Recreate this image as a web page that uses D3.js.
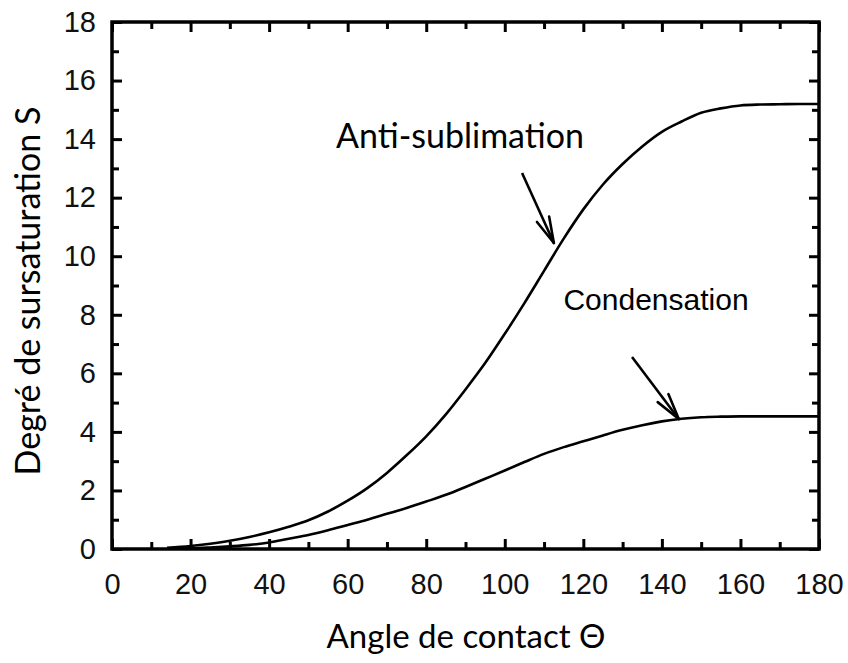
<!DOCTYPE html>
<html>
<head>
<meta charset="utf-8">
<script src="https://cdn.jsdelivr.net/npm/d3@7/dist/d3.min.js"></script>
<style>
  html, body { margin: 0; padding: 0; background: #fff; }
  svg { display: block; }
</style>
</head>
<body>
<svg id="chart" width="848" height="663"></svg>
<script>
// ---- data ----
const angles = [14,20,25,30,35,40,45,50,55,60,65,70,75,80,85,90,95,100,105,110,115,120,125,130,135,140,145,150,155,160,165,170,175,180];
const antiSublimation = [0.04,0.10,0.18,0.28,0.41,0.57,0.76,0.98,1.28,1.65,2.08,2.60,3.20,3.85,4.60,5.45,6.35,7.35,8.40,9.50,10.60,11.60,12.45,13.15,13.75,14.25,14.60,14.90,15.05,15.15,15.18,15.19,15.20,15.20];
const condensation    = [0.01,0.02,0.05,0.09,0.14,0.22,0.35,0.48,0.64,0.82,1.00,1.20,1.40,1.62,1.85,2.12,2.40,2.68,2.97,3.25,3.48,3.68,3.88,4.07,4.23,4.36,4.45,4.50,4.52,4.53,4.53,4.53,4.53,4.53];
const xTickLabels = [0,20,40,60,80,100,120,140,160,180];
const yTickLabels = [0,2,4,6,8,10,12,14,16,18];
const xMinorTicks = [10,30,50,70,90,110,130,150,170];
const yMinorTicks = [1,3,5,7,9,11,13,15,17];
const xTitle = "Angle de contact \u0398";
const yTitle = "Degré de sursaturation S";
const annotations = [
  {text: "Anti-sublimation", tx: 460, ty: 148, font: "Lato", size: 34, from: [104.4, 12.84], to: [112.5, 10.45]},
  {text: "Condensation", tx: 656, ty: 310, font: "'Liberation Sans', Arial", size: 30, from: [132.4, 6.56], to: [144.3, 4.44]}
];

// ---- layout ----
const svg = d3.select("#chart");
const L = 112, R = 819, T = 22, B = 549;
const x = d3.scaleLinear().domain([0, 180]).range([L, R]);
const y = d3.scaleLinear().domain([0, 18]).range([B, T]);
const ink = "#000";
const labelColor = "#111";

function styleAxis(g) {
  g.select(".domain").remove();
  g.selectAll(".tick line").attr("stroke", ink).attr("stroke-width", 3);
  g.selectAll(".tick text").attr("fill", labelColor)
    .style("font-family", "'Liberation Sans', Arial, sans-serif").style("font-size", "29px");
}

// major ticks with labels
svg.append("g").attr("transform", `translate(0,${B})`)
  .call(d3.axisBottom(x).tickValues(xTickLabels).tickSize(-10).tickPadding(24).tickFormat(d3.format("d")))
  .call(styleAxis);
svg.append("g").attr("transform", `translate(${L},0)`)
  .call(d3.axisLeft(y).tickValues(yTickLabels).tickSize(-10).tickPadding(16).tickFormat(d3.format("d")))
  .call(styleAxis);
// mirrored major ticks
svg.append("g").attr("transform", `translate(0,${T})`)
  .call(d3.axisTop(x).tickValues(xTickLabels).tickSize(-10).tickFormat(""))
  .call(styleAxis);
svg.append("g").attr("transform", `translate(${R},0)`)
  .call(d3.axisRight(y).tickValues(yTickLabels).tickSize(-10).tickFormat(""))
  .call(styleAxis);
// minor ticks
svg.append("g").attr("transform", `translate(0,${B})`)
  .call(d3.axisBottom(x).tickValues(xMinorTicks).tickSize(-7).tickFormat("")).call(styleAxis);
svg.append("g").attr("transform", `translate(0,${T})`)
  .call(d3.axisTop(x).tickValues(xMinorTicks).tickSize(-7).tickFormat("")).call(styleAxis);
svg.append("g").attr("transform", `translate(${L},0)`)
  .call(d3.axisLeft(y).tickValues(yMinorTicks).tickSize(-7).tickFormat("")).call(styleAxis);
svg.append("g").attr("transform", `translate(${R},0)`)
  .call(d3.axisRight(y).tickValues(yMinorTicks).tickSize(-7).tickFormat("")).call(styleAxis);

// frame
svg.append("rect").attr("x", L).attr("y", T).attr("width", R - L).attr("height", B - T)
  .attr("fill", "none").attr("stroke", ink).attr("stroke-width", 3.5);

// curves
const line = d3.line().x((d, i) => x(angles[i])).y(d => y(d)).curve(d3.curveMonotoneX);
[antiSublimation, condensation].forEach(series => {
  svg.append("path").datum(series).attr("d", line)
    .attr("fill", "none").attr("stroke", ink).attr("stroke-width", 2.6).attr("stroke-linejoin", "round");
});

// annotations with arrows
annotations.forEach(a => {
  svg.append("text").attr("x", a.tx).attr("y", a.ty).attr("text-anchor", "middle")
    .style("font-family", a.font + ", sans-serif").style("font-size", a.size + "px")
    .attr("fill", "#000").text(a.text);
  const x1 = x(a.from[0]), y1 = y(a.from[1]), x2 = x(a.to[0]), y2 = y(a.to[1]);
  svg.append("line").attr("x1", x1).attr("y1", y1).attr("x2", x2).attr("y2", y2)
    .attr("stroke", ink).attr("stroke-width", 2.6);
  const ang = Math.atan2(y2 - y1, x2 - x1);
  const len = 27, spread = 0.25;
  [ang + Math.PI - spread, ang + Math.PI + spread].forEach(b => {
    svg.append("line").attr("x1", x2).attr("y1", y2)
      .attr("x2", x2 + len * Math.cos(b)).attr("y2", y2 + len * Math.sin(b))
      .attr("stroke", ink).attr("stroke-width", 2.6).attr("stroke-linecap", "round");
  });
});

// axis titles
svg.append("text").attr("x", 466).attr("y", 648).attr("text-anchor", "middle")
  .style("font-family", "Lato, sans-serif").style("font-size", "33px").attr("fill", "#000").text(xTitle);
svg.append("text").attr("transform", "translate(40,291) rotate(-90)").attr("text-anchor", "middle")
  .style("font-family", "Lato, sans-serif").style("font-size", "34px").attr("fill", "#000").text(yTitle);
</script>
</body>
</html>
